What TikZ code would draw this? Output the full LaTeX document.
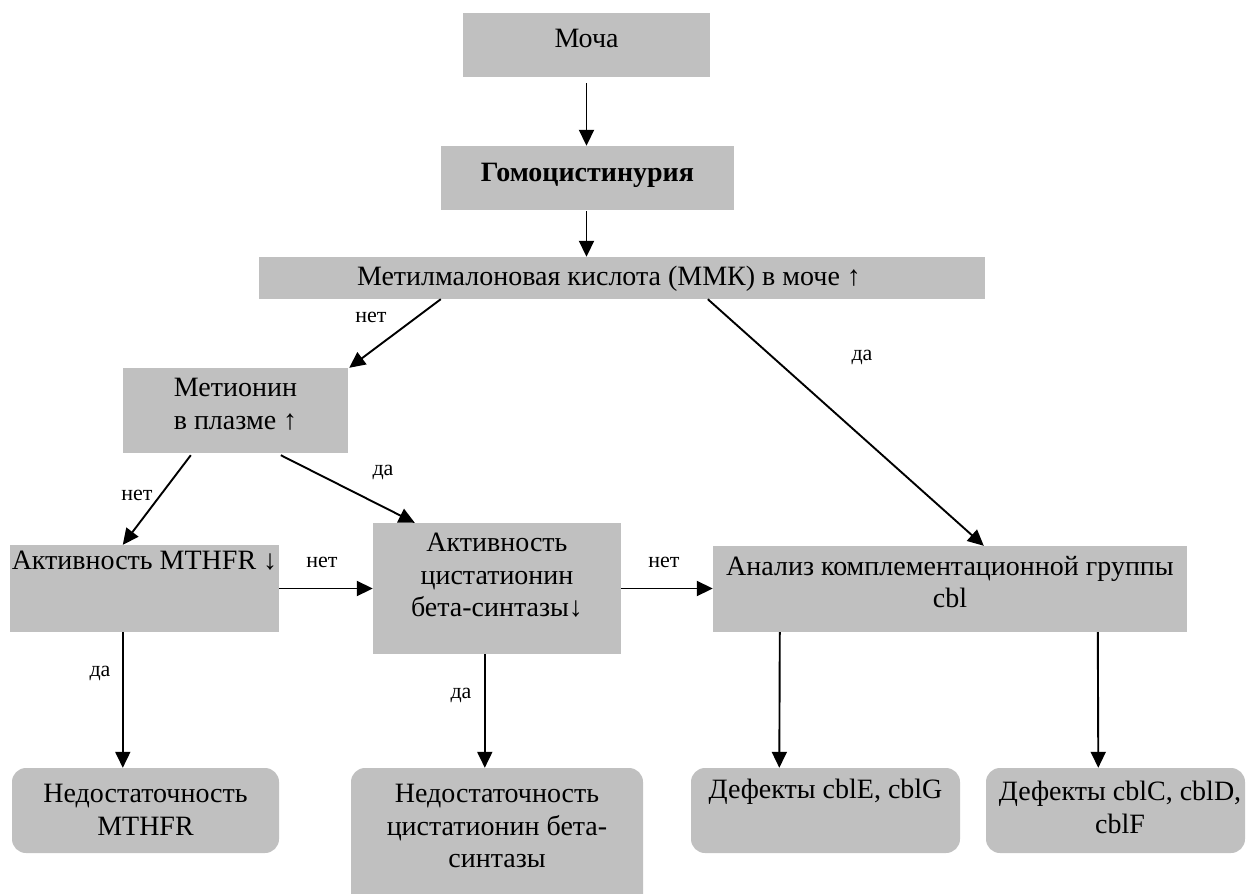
\documentclass[tikz,border=0pt]{standalone}
\usepackage{fontspec}
\setmainfont{Liberation Serif}
\usetikzlibrary{arrows.meta,calc}
\definecolor{boxgray}{RGB}{192,192,192}
\begin{document}
\begin{tikzpicture}[x=1pt,y=-1pt,
  box/.style={fill=boxgray,draw=none,inner sep=0pt,rectangle},
  rbox/.style={box,rounded corners=14pt},
  txt/.style={anchor=north,inner sep=0pt,align=center,font=\fontsize{28}{32.5}\selectfont},
  lbl/.style={inner sep=0pt,font=\fontsize{22}{26}\selectfont},
  arr/.style={line width=1.9pt,-{Triangle[length=16pt,width=15pt]}}]
\useasboundingbox (0,0) rectangle (1248,894);

% boxes
\node[box,minimum width=247pt,minimum height=64pt] (moch) at (586.5,45) {};
\node[box,minimum width=293pt,minimum height=64pt] (gomo) at (587.5,178) {};
\node[box,minimum width=726pt,minimum height=42pt] (metil) at (622,278) {};
\node[box,minimum width=225pt,minimum height=85pt] (meth) at (235.5,410.5) {};
\node[box,minimum width=269pt,minimum height=87pt] (mthfr) at (144.5,588.5) {};
\node[box,minimum width=248pt,minimum height=131pt] (cbs) at (497,588.5) {};
\node[box,minimum width=474pt,minimum height=86pt] (cbl) at (950,589) {};
\node[rbox,minimum width=267pt,minimum height=85pt] (nm) at (145.5,810.5) {};
\node[rbox,minimum width=292pt,minimum height=142pt] (ncbs) at (497,839) {};
\node[rbox,minimum width=269pt,minimum height=85pt] (de) at (825.5,810.5) {};
\node[rbox,minimum width=259pt,minimum height=85pt] (dc) at (1115.5,810.5) {};

% texts
\node[txt] (moch-t) at (586.5,29) {Моча};
\node[txt,font=\fontsize{28}{32.5}\selectfont\bfseries] (gomo-t) at (587.5,163) {Гомоцистинурия};
\node[txt] (metil-t) at (609,266) {Метилмалоновая кислота (ММК) в моче ↑};
\node[txt] (meth-t) at (235.5,378) {Метионин\\в плазме ↑};
\node[txt] (mthfr-t) at (144.5,551) {Активность MTHFR ↓};
\node[txt] (cbs-t) at (497,533) {Активность\\цистатионин\\бета-синтазы↓};
\node[txt] (cbl-t) at (950,556) {Анализ комплементационной группы\\cbl};
\node[txt] (nm-t) at (145.5,784) {Недостаточность\\MTHFR};
\node[txt] (ncbs-t) at (497,784) {Недостаточность\\цистатионин бета-\\синтазы};
\node[txt] (de-t) at (825.5,779) {Дефекты cblE, cblG};
\node[txt] (dc-t) at (1120,781) {Дефекты cblC, cblD,\\cblF};

% connectors
\draw[arr] ($(moch.south)+(0,6)$) -- (moch.south |- gomo.north);
\draw[arr] ($(moch.south |- gomo.south)+(0,1)$) -- (moch.south |- metil.north);
\draw[arr] ($(metil.south west)+(182,0)$) -- ($(meth.north east)+(1,0)$);
\draw[arr] ($(metil.south west)+(449,0)$) -- ($(cbl.north west)+(271,0)$);
\draw[arr] ($(meth.south west)+(68,2)$) -- ($(mthfr.north west)+(113,0)$);
\draw[arr] ($(meth.south west)+(158,2)$) -- ($(cbs.north west)+(42,0)$);
\draw[arr] (mthfr.east) -- (cbs.west |- mthfr.east);
\draw[arr] (cbs.east) -- (cbl.west |- cbs.east);
\draw[arr] ($(mthfr.south west)+(113,0)$) -- ($(nm.north west)+(111,0)$);
\draw[arr] ($(cbs.south west)+(112,0)$) -- ($(ncbs.north west)+(134,0)$);
\draw[arr] ($(cbl.south west)+(67,0)$) -- ($(de.north west)+(88.5,0)$);
\draw[arr] ($(cbl.south west)+(385,0)$) -- ($(dc.north west)+(112.5,0)$);

% labels
\node[lbl] (l1) at (371,317) {нет};
\node[lbl] (l2) at (862,357) {да};
\node[lbl] (l3) at (137,495) {нет};
\node[lbl] (l4) at (383,472) {да};
\node[lbl] (l5) at (322,562) {нет};
\node[lbl] (l6) at (664,562) {нет};
\node[lbl] (l7) at (100,673) {да};
\node[lbl] (l8) at (461,695) {да};
\end{tikzpicture}
\end{document}
